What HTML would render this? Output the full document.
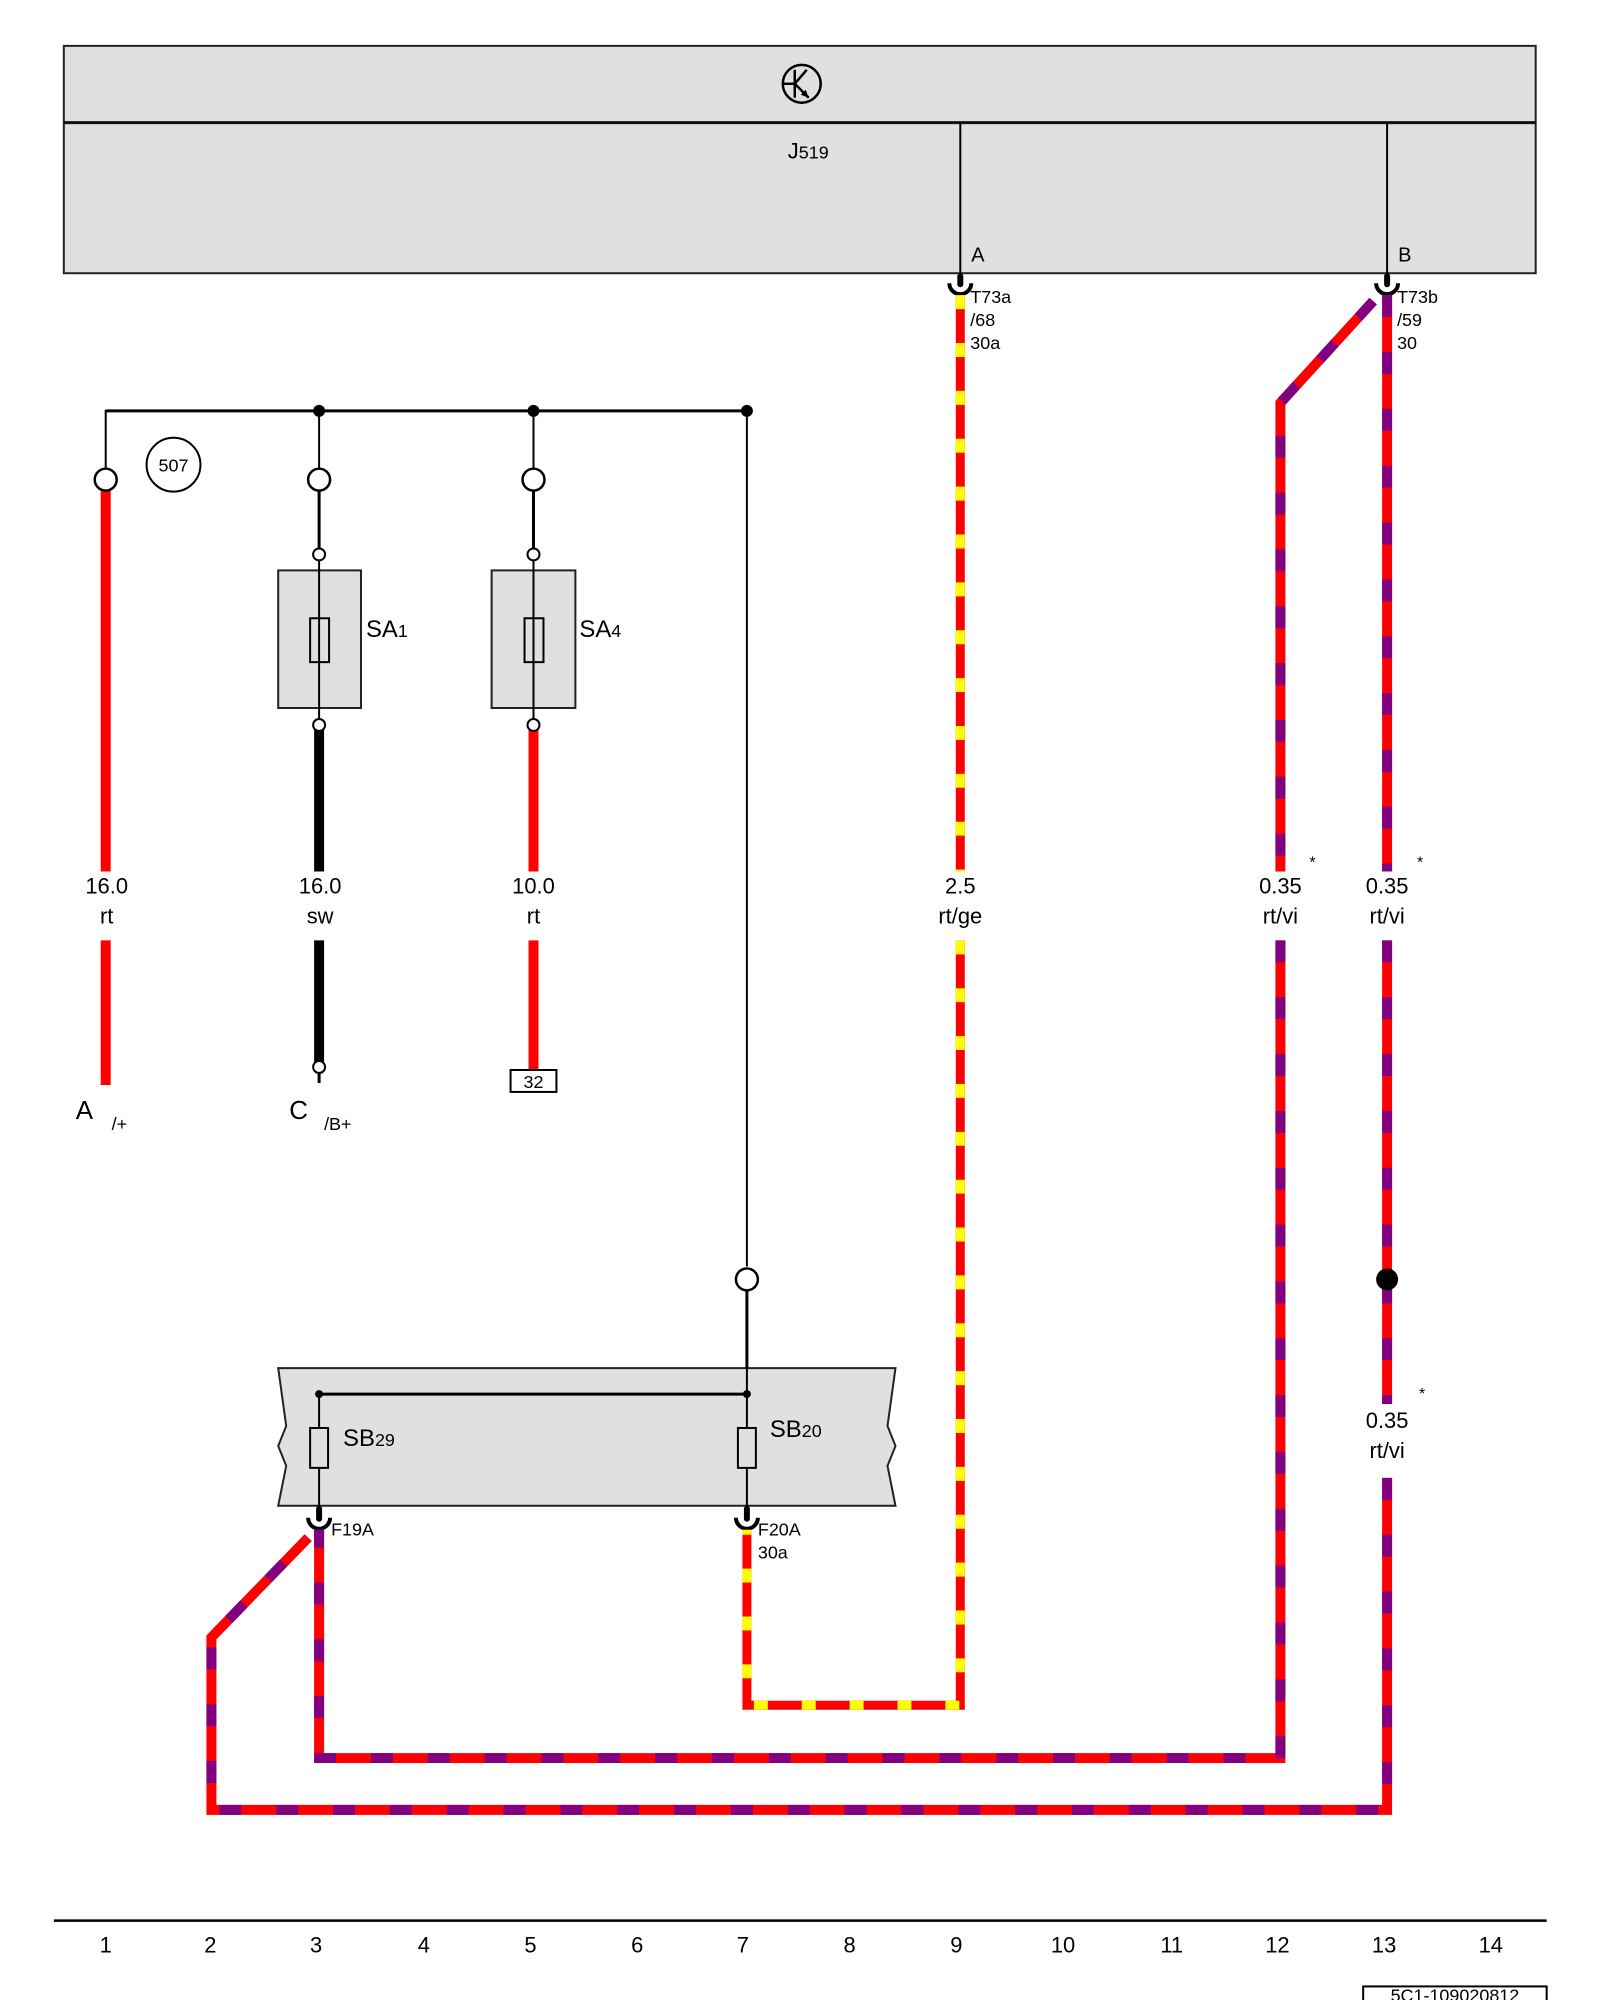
<!DOCTYPE html>
<html><head><meta charset="utf-8"><style>
html,body{margin:0;padding:0;background:#fff;}
svg{display:block;}
text{font-family:"Liberation Sans",sans-serif;fill:#000;}
</style></head><body>
<svg width="1600" height="2000" viewBox="0 0 1600 2000" xmlns="http://www.w3.org/2000/svg">
<g transform="scale(0.9972)">
<!-- J519 box -->
<rect x="64" y="46" width="1476" height="228" fill="#e0e0e0" stroke="#222" stroke-width="2"/>
<line x1="64" y1="123" x2="1540" y2="123" stroke="#111" stroke-width="3"/>
<circle cx="804" cy="84" r="19" fill="none" stroke="#000" stroke-width="2.5"/>
<line x1="797" y1="70" x2="797" y2="98" stroke="#000" stroke-width="2.5"/>
<line x1="786" y1="84" x2="797" y2="84" stroke="#000" stroke-width="2.5"/>
<line x1="797" y1="84" x2="809" y2="70" stroke="#000" stroke-width="2.5"/>
<line x1="797" y1="84" x2="811" y2="98" stroke="#000" stroke-width="2.5"/>
<polygon points="811,98 803,95 808,90" fill="#000"/>
<text x="790" y="159" font-size="22">J<tspan font-size="18">519</tspan></text>
<line x1="963" y1="123" x2="963" y2="285" stroke="#000" stroke-width="2"/>
<line x1="1391" y1="123" x2="1391" y2="285" stroke="#000" stroke-width="2"/>
<text x="974" y="262" font-size="20">A</text>
<text x="1402" y="262" font-size="20">B</text>

<!-- connectors -->
<g fill="none" stroke="#000" stroke-width="4">
<path d="M952,284 A11,11 0 0 0 974,284"/>
<path d="M1380,284 A11,11 0 0 0 1402,284"/>
<path d="M309,1522 A11,11 0 0 0 331,1522"/>
<path d="M738,1522 A11,11 0 0 0 760,1522"/>
</g>
<g fill="#000">
<rect x="960" y="274" width="6" height="14" rx="3"/>
<rect x="1388" y="274" width="6" height="14" rx="3"/>
<rect x="317" y="1510" width="6" height="16" rx="3"/>
<rect x="746" y="1510" width="6" height="16" rx="3"/>
</g>
<g font-size="18">
<text x="973" y="304">T73a</text><text x="973" y="327">/68</text><text x="973" y="350">30a</text>
<text x="1401" y="304">T73b</text><text x="1401" y="327">/59</text><text x="1401" y="350">30</text>
<text x="332" y="1540">F19A</text>
<text x="760" y="1540">F20A</text><text x="760" y="1563">30a</text>
</g>

<!-- top bus -->
<polyline points="106,481 106,412 749,412 749,1270" fill="none" stroke="#000" stroke-width="2"/>
<line x1="106" y1="412" x2="749" y2="412" stroke="#000" stroke-width="3"/>
<circle cx="320" cy="412" r="6"/><circle cx="535" cy="412" r="6"/><circle cx="749" cy="412" r="6"/>
<circle cx="174" cy="466" r="27" fill="none" stroke="#000" stroke-width="2"/>
<text x="174" y="473" font-size="18" text-anchor="middle">507</text>
<line x1="320" y1="412" x2="320" y2="470" stroke="#000" stroke-width="2"/>
<line x1="535" y1="412" x2="535" y2="470" stroke="#000" stroke-width="2"/>
<line x1="320" y1="492" x2="320" y2="552" stroke="#000" stroke-width="3"/>
<line x1="535" y1="492" x2="535" y2="552" stroke="#000" stroke-width="3"/>

<!-- SA boxes -->
<rect x="279" y="572" width="83" height="138" fill="#e0e0e0" stroke="#222" stroke-width="2"/>
<rect x="493" y="572" width="84" height="138" fill="#e0e0e0" stroke="#222" stroke-width="2"/>
<line x1="320" y1="560" x2="320" y2="723" stroke="#000" stroke-width="2"/>
<line x1="535" y1="560" x2="535" y2="723" stroke="#000" stroke-width="2"/>
<rect x="311" y="620" width="19" height="44" fill="none" stroke="#000" stroke-width="2"/>
<rect x="526" y="620" width="19" height="44" fill="none" stroke="#000" stroke-width="2"/>
<text x="367" y="639" font-size="24">SA<tspan font-size="18">1</tspan></text>
<text x="581" y="639" font-size="24">SA<tspan font-size="18">4</tspan></text>

<!-- left wires -->
<line x1="106" y1="492" x2="106" y2="874" stroke="#f00" stroke-width="10"/>
<line x1="106" y1="943" x2="106" y2="1088" stroke="#f00" stroke-width="10"/>
<line x1="320" y1="731" x2="320" y2="874" stroke="#000" stroke-width="10"/>
<line x1="320" y1="943" x2="320" y2="1066" stroke="#000" stroke-width="10"/>
<line x1="320" y1="1066" x2="320" y2="1086" stroke="#000" stroke-width="3"/>
<line x1="535" y1="731" x2="535" y2="874" stroke="#f00" stroke-width="10"/>
<line x1="535" y1="943" x2="535" y2="1073" stroke="#f00" stroke-width="10"/>
<rect x="512" y="1073" width="46" height="22" fill="#fff" stroke="#000" stroke-width="2"/>
<text x="535" y="1091" font-size="18" text-anchor="middle">32</text>

<g fill="#fff" stroke="#000" stroke-width="2.5">
<circle cx="106" cy="481" r="11"/><circle cx="320" cy="481" r="11"/><circle cx="535" cy="481" r="11"/>
<circle cx="749" cy="1283" r="11"/>
</g>
<g fill="#fff" stroke="#000" stroke-width="2">
<circle cx="320" cy="556" r="6"/><circle cx="535" cy="556" r="6"/>
<circle cx="320" cy="727" r="6"/><circle cx="535" cy="727" r="6"/>
<circle cx="320" cy="1070" r="6"/>
</g>

<g font-size="22" text-anchor="middle">
<text x="107" y="896">16.0</text><text x="107" y="926">rt</text>
<text x="321" y="896">16.0</text><text x="321" y="926">sw</text>
<text x="535" y="896">10.0</text><text x="535" y="926">rt</text>
<text x="963" y="896">2.5</text><text x="963" y="926">rt/ge</text>
<text x="1284" y="896">0.35</text><text x="1284" y="926">rt/vi</text>
<text x="1391" y="896">0.35</text><text x="1391" y="926">rt/vi</text>
<text x="1391" y="1432">0.35</text><text x="1391" y="1462">rt/vi</text>
</g>
<g font-size="16"><text x="1313" y="870">*</text><text x="1421" y="870">*</text><text x="1423" y="1403">*</text></g>
<text x="76" y="1122" font-size="26">A</text><text x="112" y="1133" font-size="18">/+</text>
<text x="290" y="1122" font-size="26">C</text><text x="325" y="1133" font-size="18">/B+</text>

<!-- SB box -->
<polygon points="279,1372 898,1372 890,1430 898,1450 890,1470 898,1510 279,1510 287,1470 279,1450 287,1430" fill="#e0e0e0" stroke="#222" stroke-width="2"/>
<line x1="749" y1="1294" x2="749" y2="1372" stroke="#000" stroke-width="3"/>
<line x1="320" y1="1398" x2="749" y2="1398" stroke="#000" stroke-width="3"/>
<circle cx="320" cy="1398" r="4"/><circle cx="749" cy="1398" r="4"/>
<line x1="320" y1="1398" x2="320" y2="1512" stroke="#000" stroke-width="2"/>
<line x1="749" y1="1372" x2="749" y2="1512" stroke="#000" stroke-width="2"/>
<rect x="311" y="1432" width="18" height="40" fill="#e0e0e0" stroke="#000" stroke-width="2"/>
<rect x="740" y="1432" width="18" height="40" fill="#e0e0e0" stroke="#000" stroke-width="2"/>
<text x="344" y="1450" font-size="24">SB<tspan font-size="18">29</tspan></text>
<text x="772" y="1441" font-size="24">SB<tspan font-size="18">20</tspan></text>

<!-- rt/ge wire -->
<g fill="none" stroke-width="9">
<polyline points="963,296 963,874" stroke="#f00"/>
<polyline points="963,296 963,874" stroke="#ff0" stroke-dasharray="14 34"/>
<polyline points="963,943 963,1710 749,1710 749,1534" stroke="#f00"/>
<polyline points="963,943 963,1710 749,1710 749,1534" stroke="#ff0" stroke-dasharray="14 34"/>
</g>
<!-- rt/vi wires -->
<g fill="none" stroke-width="10">
<polyline points="1377,302 1284,404 1284,874" stroke="#f00"/>
<polyline points="1377,302 1284,404 1284,874" stroke="#800080" stroke-dasharray="22 35"/>
<polyline points="1284,943 1284,1763 320,1763 320,1534" stroke="#f00"/>
<polyline points="1284,943 1284,1763 320,1763 320,1534" stroke="#800080" stroke-dasharray="22 35"/>
<polyline points="1391,296 1391,874" stroke="#f00"/>
<polyline points="1391,296 1391,874" stroke="#800080" stroke-dasharray="22 35"/>
<polyline points="1391,943 1391,1408" stroke="#f00"/>
<polyline points="1391,943 1391,1408" stroke="#800080" stroke-dasharray="22 35"/>
<polyline points="1391,1482 1391,1815 212,1815 212,1642 309,1542" stroke="#f00"/>
<polyline points="1391,1482 1391,1815 212,1815 212,1642 309,1542" stroke="#800080" stroke-dasharray="22 35"/>
</g>
<circle cx="1391" cy="1283" r="11" fill="#000"/>

<!-- bottom ruler -->
<line x1="54" y1="1926" x2="1551" y2="1926" stroke="#000" stroke-width="2.5"/>
<g font-size="22" text-anchor="middle">
<text x="106" y="1958">1</text><text x="211" y="1958">2</text><text x="317" y="1958">3</text><text x="425" y="1958">4</text><text x="532" y="1958">5</text><text x="639" y="1958">6</text><text x="745" y="1958">7</text><text x="852" y="1958">8</text><text x="959" y="1958">9</text><text x="1066" y="1958">10</text><text x="1175" y="1958">11</text><text x="1281" y="1958">12</text><text x="1388" y="1958">13</text><text x="1495" y="1958">14</text>
</g>
<rect x="1367" y="1992" width="184" height="20" fill="#fff" stroke="#000" stroke-width="2"/>
<text x="1459" y="2007" font-size="18" text-anchor="middle">5C1-109020812</text>
</g>
</svg>
</body></html>
